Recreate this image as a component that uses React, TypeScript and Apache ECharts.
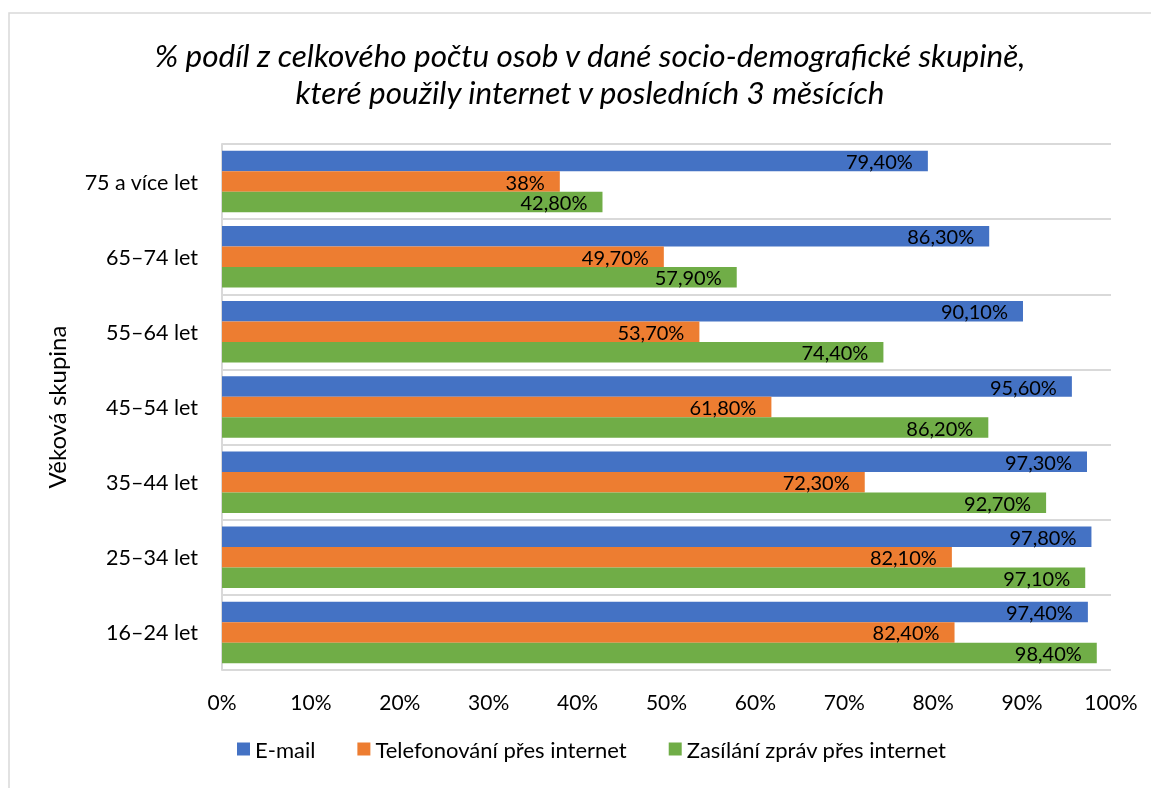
import React, { useEffect, useRef } from "react";
import * as echarts from "echarts";

const categories = ["16–24 let", "25–34 let", "35–44 let", "45–54 let", "55–64 let", "65–74 let", "75 a více let"];
const emailValues = [97.4, 97.8, 97.3, 95.6, 90.1, 86.3, 79.4];
const phoneValues = [82.4, 82.1, 72.3, 61.8, 53.7, 49.7, 38];
const messageValues = [98.4, 97.1, 92.7, 86.2, 74.4, 57.9, 42.8];
const seriesNames = ["E-mail", "Telefonování přes internet", "Zasílání zpráv přes internet"];
const xTicks = [0, 10, 20, 30, 40, 50, 60, 70, 80, 90, 100];

const FONT = "Lato";

function fmt(v: number): string {
  return Number.isInteger(v) ? v + "%" : v.toFixed(2).replace(".", ",") + "%";
}

export default function App() {
  const ref = useRef<HTMLDivElement>(null);
  useEffect(() => {
    if (!ref.current) return;
    const chart = echarts.init(ref.current, undefined, { renderer: "svg" });
    const mk = (name: string, data: number[], color: string) => ({
      name,
      type: "bar",
      data,
      barWidth: 20.5,
      barGap: "0%",
      itemStyle: { color },
      label: {
        show: true,
        position: "insideRight",
        distance: 15,
        color: "#000",
        fontFamily: FONT,
        fontSize: 20,
        lineHeight: 19,
        formatter: (p: any) => fmt(p.value),
      },
    });
    chart.setOption({
      animation: false,
      textStyle: { fontFamily: FONT },
      graphic: [
        {
          type: "rect",
          shape: { x: 9, y: 13, width: 1200, height: 800 },
          style: { fill: "none", stroke: "#d9d9d9", lineWidth: 1.5 },
          silent: true,
        },
        {
          type: "text",
          x: 590,
          y: 36,
          style: {
            text: "% podíl z celkového počtu osob v dané socio-demografické skupině,\nkteré použily internet v posledních 3 měsících",
            font: `italic 31.5px ${FONT}`,
            fill: "#000",
            align: "center",
            verticalAlign: "top",
            lineHeight: 37,
          },
        },
      ],
      legend: {
        data: seriesNames,
        bottom: 23,
        left: 232,
        itemWidth: 13,
        itemHeight: 13,
        itemGap: 42,
        icon: "rect",
        textStyle: { fontFamily: FONT, fontSize: 22, color: "#000" },
      },
      grid: { left: 222, right: 40, top: 144, bottom: 118 },
      xAxis: {
        type: "value",
        min: 0,
        max: 100,
        interval: 10,
        axisLine: { show: false },
        axisTick: { show: false },
        splitLine: { show: false },
        axisLabel: {
          fontFamily: FONT,
          fontSize: 21,
          color: "#000",
          margin: 21,
          formatter: (v: number) => (xTicks.includes(v) ? v + "%" : ""),
        },
      },
      yAxis: {
        type: "category",
        data: categories,
        name: "Věková skupina",
        nameLocation: "middle",
        nameRotate: 90,
        nameGap: 154,
        nameTextStyle: { fontFamily: FONT, fontSize: 24, color: "#000" },
        axisLine: { show: true, lineStyle: { color: "#d9d9d9", width: 2 } },
        axisTick: { show: false },
        splitLine: { show: true, lineStyle: { color: "#d9d9d9", width: 2 } },
        axisLabel: { fontFamily: FONT, fontSize: 21.5, color: "#000", margin: 24 },
      },
      series: [
        mk(seriesNames[0], emailValues, "#4472C4"),
        mk(seriesNames[1], phoneValues, "#ED7D31"),
        mk(seriesNames[2], messageValues, "#70AD47"),
      ],
    });
    return () => chart.dispose();
  }, []);
  return <div ref={ref} style={{ position: "fixed", left: 0, top: 0, width: 1151, height: 788 }} />;
}
